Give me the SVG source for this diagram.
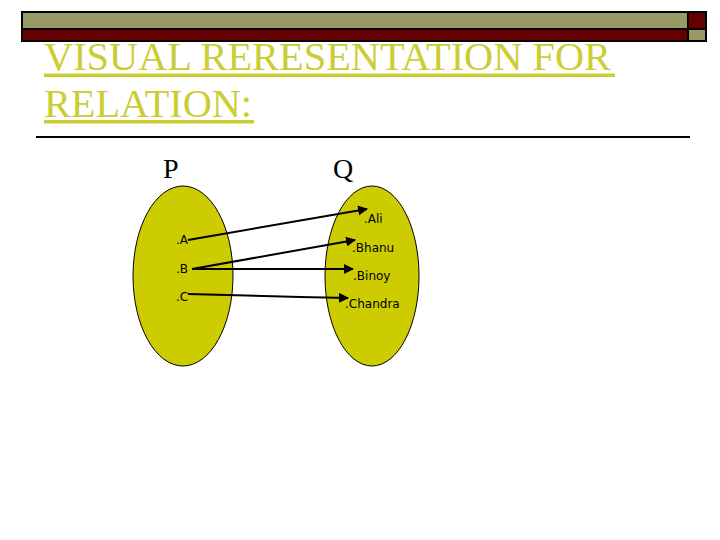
<svg xmlns="http://www.w3.org/2000/svg" width="720" height="540" viewBox="0 0 720 540">
<style>
.olive{fill:#999966;stroke:#000;stroke-width:2}
.red{fill:#660000;stroke:#000;stroke-width:2}
.title{font-family:"Liberation Serif",serif;font-size:40px;fill:#CCCC33}
.ul{fill:#CCCC33}
.set{fill:#CCCC00;stroke:#000;stroke-width:1}
.setlabel{font-family:"Liberation Serif",serif;font-size:28px;fill:#000}
.el{font-family:"DejaVu Sans",sans-serif;font-size:12px;fill:#000}
.conn{stroke:#000;stroke-width:2;fill:none;marker-end:url(#ah)}
</style>
<defs>
<marker id="ah" viewBox="0 0 10 10" refX="9" refY="5" markerWidth="5" markerHeight="5" orient="auto" markerUnits="strokeWidth">
<path d="M0,0 L10,5 L0,10 z" fill="#000"/>
</marker>
</defs>
<rect width="720" height="540" fill="#fff"/>
<g id="header-bar">
<rect class="olive" x="22" y="12" width="666" height="17"/>
<rect class="red" x="22" y="29" width="666" height="12"/>
<rect class="red" x="688" y="12" width="18" height="17"/>
<rect class="olive" x="688" y="29" width="18" height="12"/>
</g>
<g id="title">
<text class="title" x="44" y="70" textLength="567" lengthAdjust="spacingAndGlyphs">VISUAL RERESENTATION FOR</text>
<rect class="ul" x="44" y="73.5" width="571" height="3.5"/>
<text class="title" x="44" y="117" textLength="208" lengthAdjust="spacingAndGlyphs">RELATION:</text>
<rect class="ul" x="44" y="120" width="210" height="3.5"/>
<rect x="36" y="136" width="654" height="2" fill="#000"/>
</g>
<g id="set-P">
<ellipse class="set" cx="183" cy="276" rx="50" ry="90"/>
<text class="setlabel" x="163" y="178">P</text>
<text class="el" x="176" y="244">.A</text>
<text class="el" x="176" y="273">.B</text>
<text class="el" x="176" y="301">.C</text>
</g>
<g id="set-Q">
<ellipse class="set" cx="372" cy="276" rx="47" ry="90"/>
<text class="setlabel" x="333" y="178">Q</text>
<text class="el" x="364" y="223">.Ali</text>
<text class="el" x="352" y="252">.Bhanu</text>
<text class="el" x="353" y="280">.Binoy</text>
<text class="el" x="345" y="308">.Chandra</text>
</g>
<g id="connectors">
<line class="conn" x1="188" y1="240" x2="367" y2="209"/>
<line class="conn" x1="192" y1="269" x2="355" y2="240"/>
<line class="conn" x1="192" y1="269" x2="353" y2="269"/>
<polyline class="conn" points="188,294 300,297 348,298"/>
</g>
</svg>
